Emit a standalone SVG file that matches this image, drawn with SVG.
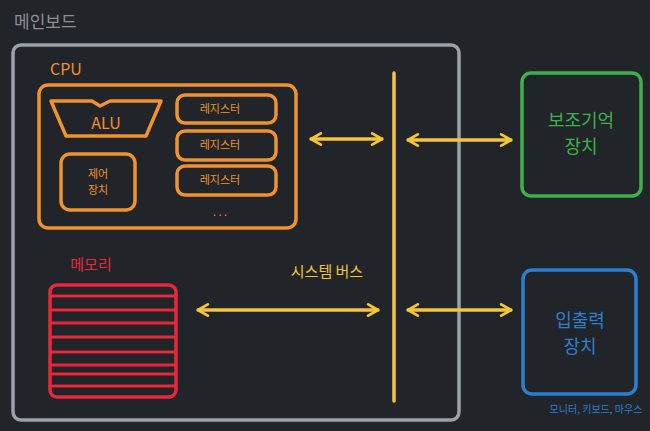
<svg xmlns="http://www.w3.org/2000/svg" width="650" height="431" viewBox="0 0 650 431">
<style>
text{font-family:"Noto Sans CJK KR","Noto Sans",sans-serif}
.o{fill:none;stroke:#f0922f;stroke-width:3.5;stroke-linejoin:round}
.ot{fill:#f0922f;font-size:11px;text-anchor:middle}
.y{fill:none;stroke:#f4c43a;stroke-width:3.5;stroke-linecap:round;stroke-linejoin:round}
</style>
<defs>
<marker id="a" viewBox="0 0 10 10" refX="9" refY="5" markerWidth="4" markerHeight="4" orient="auto-start-reverse"><path d="M2,1 L9,5 L2,9" fill="none" stroke="#f4c43a" stroke-width="2" stroke-linecap="round" stroke-linejoin="round"/></marker>
</defs>
<rect width="650" height="431" fill="#212428"/>
<g id="mainboard">
<text x="14" y="28" font-size="17" fill="#8a8f96">메인보드</text>
<rect x="13" y="45" width="446" height="375" rx="8" fill="none" stroke="#9aa1a8" stroke-width="3.5"/>
</g>
<g id="cpu">
<text x="50" y="75" font-size="16" fill="#f0922f">CPU</text>
<rect x="39" y="85" width="257" height="143" rx="9" class="o"/>
</g>
<g id="alu">
<path d="M51,101 L92,101 L100,106 L110,101 L161,101 L146,136 L66,136 Z" class="o"/>
<text x="106" y="129" font-size="16" fill="#f0922f" text-anchor="middle">ALU</text>
</g>
<g id="control">
<rect x="61" y="154" width="74" height="56" rx="9" class="o"/>
<text x="98" y="178" class="ot">제어</text>
<text x="98" y="194" class="ot">장치</text>
</g>
<g id="reg1"><rect x="177" y="95" width="99" height="28" rx="8" class="o"/><text x="220" y="113" class="ot">레지스터</text></g>
<g id="reg2"><rect x="177" y="131" width="99" height="29" rx="8" class="o"/><text x="220" y="149" class="ot">레지스터</text></g>
<g id="reg3"><rect x="177" y="166" width="99" height="29" rx="8" class="o"/><text x="220" y="184" class="ot">레지스터</text></g>
<text x="220" y="216" class="ot" font-size="12">. . .</text>
<g id="memory">
<text x="91" y="270" font-size="15" fill="#e8283a" text-anchor="middle">메모리</text>
<rect x="50" y="285" width="126" height="112" rx="7" fill="none" stroke="#e8283a" stroke-width="3.5"/>
<path d="M51,296 H175 M51,310 H175 M51,323 H175 M51,337 H175 M51,352 H175 M51,365 H175 M51,374 H175 M51,386 H175" stroke="#e8283a" stroke-width="3"/>
</g>
<g id="storage">
<rect x="522" y="73" width="119" height="123" rx="9" fill="none" stroke="#3fb04a" stroke-width="3.5"/>
<text x="581" y="127" font-size="18" fill="#3fb04a" text-anchor="middle">보조기억</text>
<text x="581" y="153" font-size="18" fill="#3fb04a" text-anchor="middle">장치</text>
</g>
<g id="io">
<rect x="523" y="270" width="113" height="124" rx="9" fill="none" stroke="#2f7fd0" stroke-width="3.5"/>
<text x="580" y="327" font-size="18" fill="#2f7fd0" text-anchor="middle">입출력</text>
<text x="580" y="353" font-size="18" fill="#2f7fd0" text-anchor="middle">장치</text>
<text x="596" y="413" font-size="10" fill="#2f7fd0" text-anchor="middle">모니터, 키보드, 마우스</text>
</g>
<g id="bus">
<line x1="394" y1="73" x2="394" y2="401" class="y"/>
<text x="327" y="277" font-size="15" fill="#f4c43a" text-anchor="middle">시스템 버스</text>
</g>
<g id="connectors">
<line x1="311" y1="139" x2="382" y2="139" class="y" marker-start="url(#a)" marker-end="url(#a)"/>
<line x1="408" y1="140" x2="511" y2="140" class="y" marker-start="url(#a)" marker-end="url(#a)"/>
<line x1="198" y1="310" x2="378" y2="310" class="y" marker-start="url(#a)" marker-end="url(#a)"/>
<line x1="408" y1="310" x2="511" y2="310" class="y" marker-start="url(#a)" marker-end="url(#a)"/>
</g>
</svg>
